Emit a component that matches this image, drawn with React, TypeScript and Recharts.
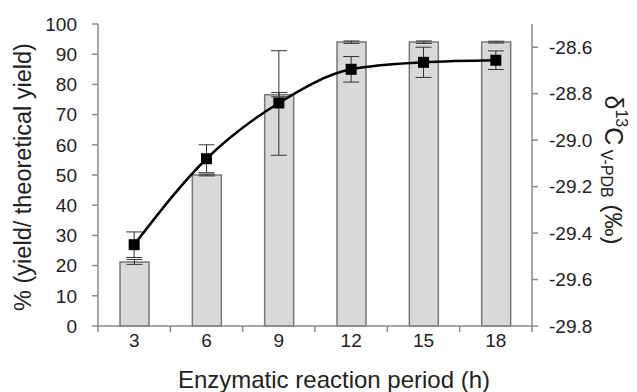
import { ComposedChart, Bar, Line, XAxis, YAxis, ErrorBar } from "recharts"

const periods = ["3", "6", "9", "12", "15", "18"]
const yieldPct = [21.2, 50, 76.6, 94, 94, 94]
const yieldErr = [0.8, 0.3, 0.7, 0.4, 0.4, 0.3]
const delta13C = [-29.45, -29.08, -28.84, -28.695, -28.665, -28.656]
const deltaErr = [0.055, 0.06, 0.225, 0.055, 0.065, 0.04]
const yieldTicks = [0, 10, 20, 30, 40, 50, 60, 70, 80, 90, 100]
const deltaTicks = [-29.8, -29.6, -29.4, -29.2, -29.0, -28.8, -28.6]

const data = periods.map((p, i) => ({
  period: p,
  yield: yieldPct[i],
  yieldErr: yieldErr[i],
  delta: delta13C[i],
  deltaErr: deltaErr[i]
}))

const font = "Arial, 'Liberation Sans', sans-serif"
const axisGray = "#8a8a8a"

function XTick(props: any) {
  const { x, y, payload, index, visibleTicksCount, width } = props
  const half = payload?.offset || width / visibleTicksCount / 2
  const top = y - 8
  return (
    <g>
      <line x1={x - half} x2={x - half} y1={top} y2={top + 6} stroke={axisGray} strokeWidth={1.5} />
      {index === visibleTicksCount - 1 && (
        <line x1={x + half} x2={x + half} y1={top} y2={top + 6} stroke={axisGray} strokeWidth={1.5} />
      )}
      <text x={x} y={y} dy="0.71em" textAnchor="middle" fontSize={19} fill="#222" fontFamily={font}>
        {payload.value}
      </text>
    </g>
  )
}

function LeftTitle() {
  return (
    <text
      x={23}
      y={177}
      transform="rotate(-90, 23, 177)"
      textAnchor="middle"
      dominantBaseline="central"
      fontSize={23.5}
      fill="#222"
      fontFamily={font}
    >
      % (yield/ theoretical yield)
    </text>
  )
}

function RightTitle() {
  return (
    <text
      x={614}
      y={170}
      transform="rotate(90, 614, 170)"
      textAnchor="middle"
      dominantBaseline="central"
      fontSize={24}
      fill="#222"
      fontFamily={font}
    >
      <tspan fontSize={25}>δ</tspan>
      <tspan fontSize={16} dy={-8}>13</tspan>
      <tspan fontSize={25} dy={8}>C</tspan>
      <tspan fontSize={16} dy={7}> V-PDB</tspan>
      <tspan dy={-7}> (‰)</tspan>
    </text>
  )
}

function BottomTitle() {
  return (
    <text x={334} y={388} textAnchor="middle" fontSize={24} fill="#222" fontFamily={font}>
      Enzymatic reaction period (h)
    </text>
  )
}

export default function App() {
  return (
    <div style={{ position: "absolute", left: 0, top: 0, width: 637, height: 392, background: "#fff" }}>
      <ComposedChart
        width={637}
        height={392}
        data={data}
        margin={{ top: 24, right: 25, left: 38, bottom: 0 }}
      >
        <XAxis
          dataKey="period"
          height={66}
          stroke={axisGray}
          strokeWidth={1.5}
          tickLine={false}
          tickSize={0}
          tickMargin={8}
          tick={<XTick />}
          label={{ content: () => <BottomTitle /> }}
        />
        <YAxis
          yAxisId="left"
          domain={[0, 100]}
          ticks={yieldTicks}
          width={60}
          stroke={axisGray}
          strokeWidth={1.5}
          tickSize={6}
          tickMargin={15}
          tick={{ fontSize: 19, fill: "#222", fontFamily: font }}
          interval={0}
          label={{ content: () => <LeftTitle /> }}
        />
        <YAxis
          yAxisId="right"
          orientation="right"
          domain={[-29.8, -28.5]}
          ticks={deltaTicks}
          width={80}
          stroke={axisGray}
          strokeWidth={1.5}
          tickSize={6}
          tickMargin={11}
          tickFormatter={(v: number) => v.toFixed(1)}
          tick={{ fontSize: 19, fill: "#222", fontFamily: font }}
          interval={0}
          allowDataOverflow
          label={{ content: () => <RightTitle /> }}
        />
        <Bar
          yAxisId="left"
          dataKey="yield"
          barSize={29}
          fill="#d9d9d9"
          stroke="#777"
          strokeWidth={1.5}
          isAnimationActive={false}
        >
          <ErrorBar dataKey="yieldErr" width={8} stroke="#333" strokeWidth={1} />
        </Bar>
        <Line
          yAxisId="right"
          dataKey="delta"
          type="monotone"
          stroke="#000"
          strokeWidth={2.5}
          dot={(p: any) => (
            <rect key={p.index} x={p.cx - 5.5} y={p.cy - 5.5} width={11} height={11} fill="#000" />
          )}
          activeDot={false}
          isAnimationActive={false}
        >
          <ErrorBar dataKey="deltaErr" width={8} stroke="#333" strokeWidth={1} direction="y" />
        </Line>
      </ComposedChart>
    </div>
  )
}
